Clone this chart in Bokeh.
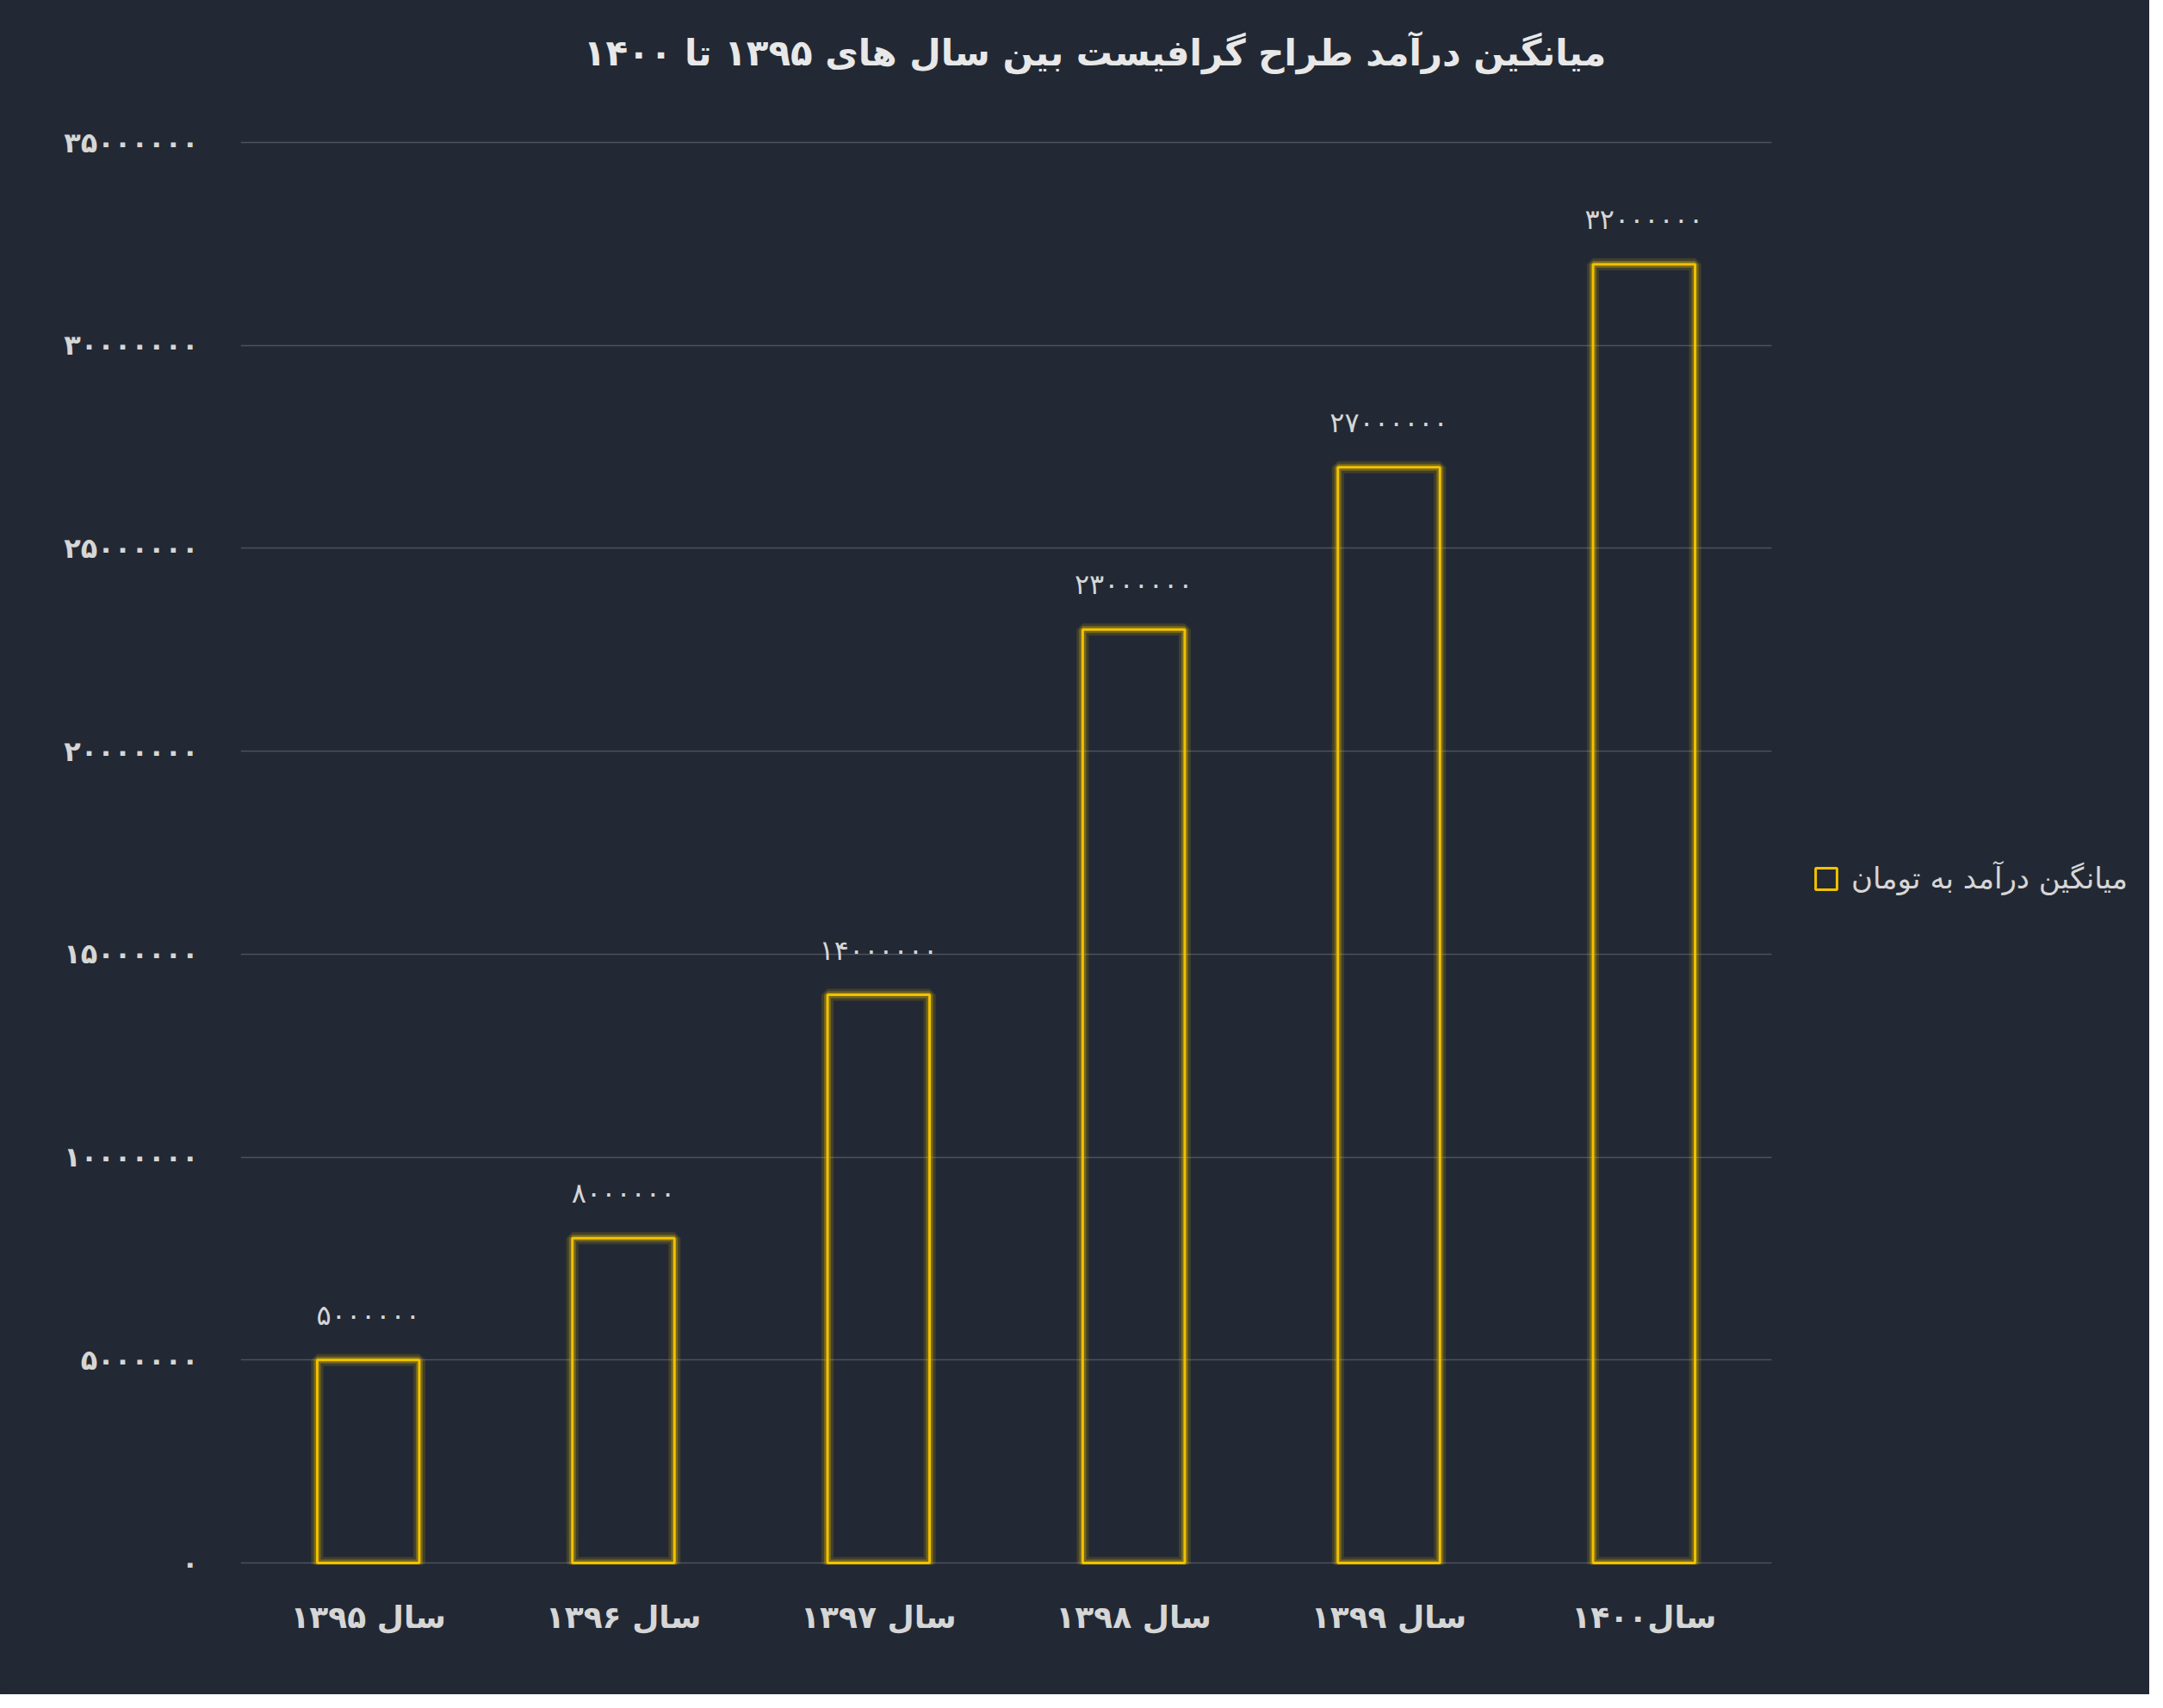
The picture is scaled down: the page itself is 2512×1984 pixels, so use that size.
from bokeh.plotting import figure
from bokeh.models import (ColumnDataSource, FixedTicker, Legend, LegendItem, Range1d,
                          BoxAnnotation, Label)
from bokeh.core.properties import value
from bokeh.embed import file_html
from bokeh.resources import INLINE

# ---- data ----
years = ["سال ۱۳۹۵", "سال ۱۳۹۶", "سال ۱۳۹۷", "سال ۱۳۹۸", "سال ۱۳۹۹", "سال۱۴۰۰"]
income = [5000000, 8000000, 14000000, 23000000, 27000000, 32000000]
y_ticks = [0, 5000000, 10000000, 15000000, 20000000, 25000000, 30000000, 35000000]
title_text = "میانگین درآمد طراح گرافیست بین سال های ۱۳۹۵ تا ۱۴۰۰"
legend_text = "میانگین درآمد به تومان"

FA = str.maketrans("0123456789", "۰۱۲۳۴۵۶۷۸۹")
def fa(n):
    return str(n).translate(FA)

BG = "#222934"
GOLD = "#f2c200"
TXT = "#d6d6d6"
FONT = "DejaVu Sans"

idx = list(range(len(years)))
src = ColumnDataSource(dict(x=idx, top=income, lbl=[fa(v) for v in income]))

# plot area: category slots end at n-0.5; extra room on the right holds the legend
x_end = len(years) - 0.5
p = figure(width=2496, height=1968,
           x_range=Range1d(-0.5, x_end + 1.4815),
           y_range=Range1d(-42000, 38500000), output_backend="svg", toolbar_location=None,
           background_fill_color=BG, border_fill_color=BG,
           min_border_left=279, min_border_right=0, min_border_top=0, min_border_bottom=151)
p.outline_line_color = None
p.title.visible = False
p.styles = {"background-color": BG}

# mask for the legend column so gridlines stop at the last category
p.add_layout(BoxAnnotation(left=x_end, fill_color=BG, fill_alpha=1, line_color=None,
                           level="underlay"))

# glow
p.vbar(x="x", top="top", width=0.4, source=src, fill_alpha=0, line_color=GOLD,
       line_alpha=0.15, line_width=14)
p.vbar(x="x", top="top", width=0.4, source=src, fill_alpha=0, line_color=GOLD,
       line_alpha=0.3, line_width=8)
bars = p.vbar(x="x", top="top", width=0.4, source=src, fill_alpha=0, line_color=GOLD,
              line_width=3)

p.text(x="x", y="top", text="lbl", source=src, y_offset=-52, text_align="center",
       text_baseline="middle", text_font=value(FONT), text_font_size="32px",
       text_color=TXT)

# title as a label (screen units relative to the plot frame)
p.add_layout(Label(x=992, y=1756, x_units="screen", y_units="screen", text=title_text,
                   text_align="center", text_baseline="middle", text_font=FONT,
                   text_font_style="bold", text_font_size="42px", text_color="#e8e8e8"))

# axes
p.yaxis.ticker = FixedTicker(ticks=y_ticks)
p.yaxis.major_label_overrides = {t: fa(t) for t in y_ticks}
p.yaxis.major_label_text_font = FONT
p.yaxis.major_label_text_font_style = "bold"
p.yaxis.major_label_text_font_size = "32px"
p.yaxis.major_label_text_color = TXT
p.yaxis.major_label_standoff = 43
p.yaxis.axis_line_color = None
p.yaxis.major_tick_line_color = None
p.yaxis.minor_tick_line_color = None

p.xaxis.ticker = FixedTicker(ticks=idx)
p.xaxis.major_label_overrides = {i: years[i] for i in idx}
p.xaxis.major_label_text_font = FONT
p.xaxis.major_label_text_font_style = "bold"
p.xaxis.major_label_text_font_size = "36px"
p.xaxis.major_label_text_color = TXT
p.xaxis.major_label_standoff = 34
p.xaxis.axis_line_color = None
p.xaxis.major_tick_line_color = None
p.xaxis.minor_tick_line_color = None

p.xgrid.grid_line_color = None
p.ygrid.grid_line_color = "#4d525b"
p.ygrid.grid_line_width = 1.5

legend = Legend(items=[LegendItem(label=legend_text, renderers=[bars])],
                location=(1826, 777), orientation="vertical",
                padding=0, margin=0, border_line_alpha=0, background_fill_alpha=0,
                glyph_width=31, glyph_height=31, label_height=31,
                label_text_font=FONT, label_text_font_size="34px", label_text_color=TXT,
                label_standoff=14)
p.add_layout(legend, "center")

open("out.html", "w").write(file_html(p, INLINE))
